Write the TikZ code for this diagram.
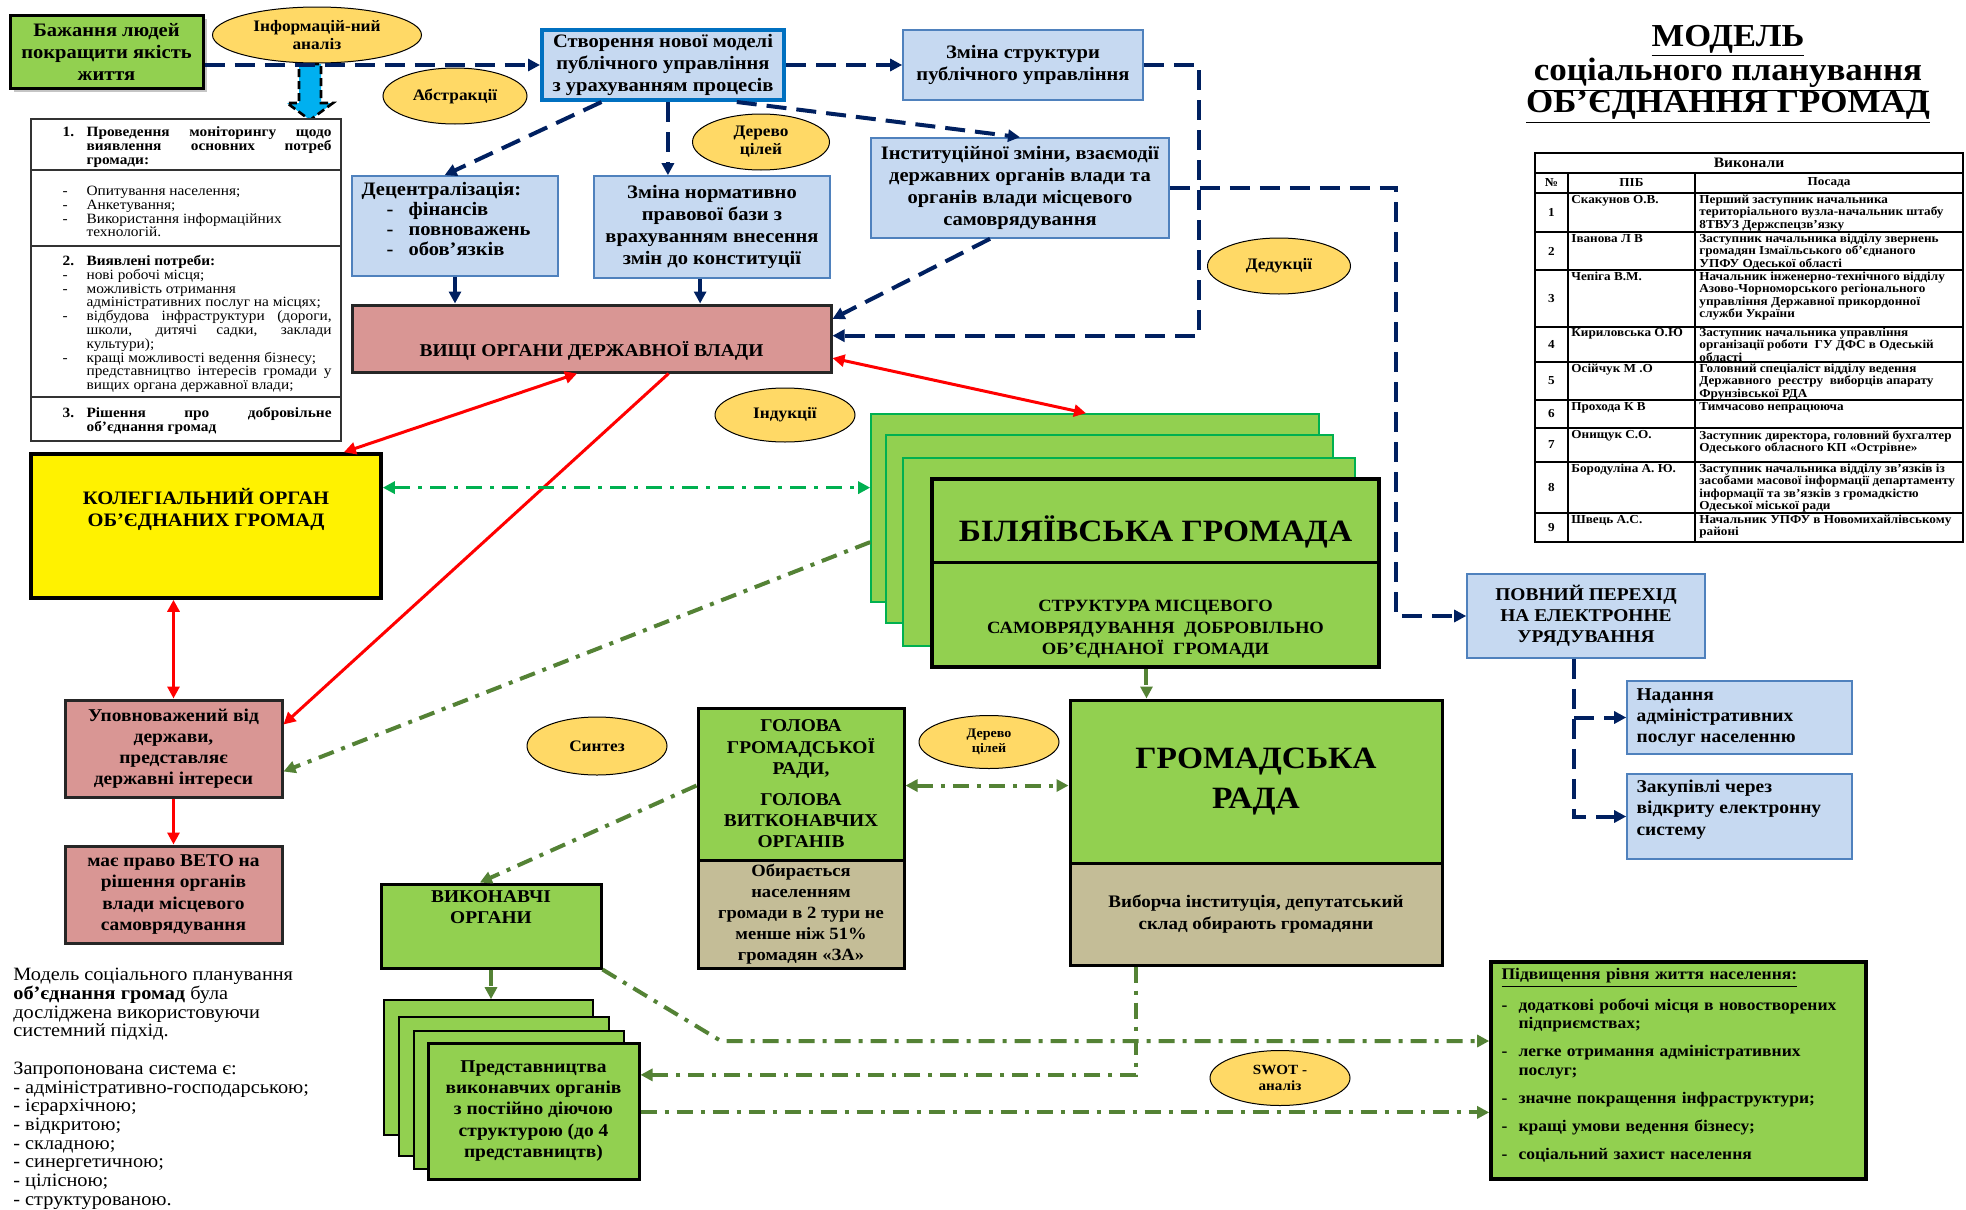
\documentclass[tikz,border=0pt]{standalone}
\usepackage{fontspec}
\setmainfont{Liberation Serif}[FakeStretch=1.08]
\usetikzlibrary{shapes.geometric,arrows.meta,calc,shadows}
\definecolor{grn}{HTML}{92D050}
\definecolor{lblue}{HTML}{C6D9F1}
\definecolor{bluebd}{HTML}{4F81BD}
\definecolor{bluethick}{HTML}{0070C0}
\definecolor{pinkc}{HTML}{D99694}
\definecolor{ellc}{HTML}{FFD966}
\definecolor{tanc}{HTML}{C4BD97}
\definecolor{navyc}{HTML}{002060}
\definecolor{olivec}{HTML}{548235}
\definecolor{bgreen}{HTML}{00B050}
\definecolor{cyanc}{HTML}{00B0F0}
\definecolor{redc}{HTML}{FF0000}
\newcommand\fsA{\fontsize{9.5}{11}\selectfont\bfseries}
\newcommand\fsB{\fontsize{9}{10.6}\selectfont\bfseries}
\newcommand\fsE{\fontsize{8}{9}\selectfont\bfseries}
\newcommand\fsM{\fontsize{7.1}{6.9}\selectfont}
\newcommand\fsT{\fontsize{6.1}{6.05}\selectfont\bfseries}
\newcommand\itm[1][12pt]{\par\noindent\hangindent=#1\hangafter=1\hbox to #1{-\hfil}}
\newcommand\numi[1]{\par\noindent\hangindent=12pt\hangafter=1\hbox to 12pt{#1\hfil}}
\newcommand\rbox[7]{\node[#2, minimum width={(#5-#3)*0.5pt}, minimum height={(#6-#4)*0.5pt}] (#1) at ({(#3+#5)/2},{(#4+#6)/2}) {#7};}
\newcommand\trow[6]{%
  \node[font=\fsT, inner sep=0pt] (tn#1) at (1551.5,{(#2+#3)/2}) {#1};
  \node[anchor=north west, font=\fsT, align=left, inner sep=0pt] (tm#1) at (1571,{#2+2}) {#4};
  \node[anchor=north west, font=\fsT, align=left, inner sep=0pt] (tp#1) at (1699,{#2+2}) {#5#6};}
\begin{document}
\begin{tikzpicture}[x=0.5pt,y=-0.5pt, >={Triangle[length=6pt,width=6pt]},
  greenbox/.style={draw=black, line width=1.5pt, fill=grn, align=center, font=\fsB, inner sep=1pt},
  bluebox/.style={draw=bluebd, line width=0.8pt, fill=lblue, align=center, font=\fsA, inner sep=1pt},
  pinkbox/.style={draw=black!85, line width=1.5pt, fill=pinkc, align=center, font=\fsB, inner sep=1pt},
  tanbox/.style={draw=black, line width=1.5pt, fill=tanc, align=center, font=\fsB, inner sep=1pt},
  backgreen/.style={draw=bgreen, line width=0.8pt, fill=grn},
  backblack/.style={draw=black, line width=0.8pt, fill=grn},
  ell/.style={ellipse, draw=black, line width=0.5pt, fill=ellc, inner sep=0pt, align=center, font=\fsE},
  lbl/.style={align=center, inner sep=0pt},
  montxt/.style={anchor=north west, text width=134.5pt, align=justify, inner sep=0pt, font=\fsM},
  navyd/.style={draw=navyc, line width=2pt, dash pattern=on 10pt off 5pt, ->},
  navys/.style={draw=navyc, line width=2pt, ->},
  redar/.style={draw=redc, line width=1.5pt},
  olv/.style={draw=olivec, line width=2pt, dash pattern=on 8pt off 4pt on 2pt off 4pt},
  bgr/.style={draw=bgreen, line width=1.8pt, dash pattern=on 8pt off 4pt on 2pt off 4pt}]
\fill[white] (0,0) rectangle (1966,1210);
\useasboundingbox (0,0) rectangle (1966,1210);

% ---------- top left
\rbox{bazh}{greenbox, font=\fsA, drop shadow={opacity=0.45, shadow xshift=2pt, shadow yshift=-2pt}}{10}{15}{203}{88}{Бажання людей\\покращити якість\\життя}
\draw[fill=cyanc, draw=black, line width=1.3pt, dash pattern=on 4pt off 2pt] (299,64) -- (321,64) -- (321,103) -- (333,103) -- (310,120) -- (287,103) -- (299,103) -- cycle;
\node[ell, minimum width=104.5pt, minimum height=28pt] (inf) at (317,35) {Інформацій-ний\\аналіз};
\node[ell, minimum width=72pt, minimum height=28pt] (abs) at (455,96) {Абстракції};

% monitoring box
\rbox{mon}{draw=black!80, line width=0.8pt, fill=white}{31}{119}{341}{441}{}
\draw[black!80, line width=0.8pt] ($(mon.north west)+(0,52)$) -- ($(mon.north east)+(0,52)$);
\draw[black!80, line width=0.8pt] ($(mon.north west)+(0,128)$) -- ($(mon.north east)+(0,128)$);
\draw[black!80, line width=0.8pt] ($(mon.north west)+(0,279)$) -- ($(mon.north east)+(0,279)$);
\node[montxt] (m1) at ($(mon.north west)+(32,4)$) {\bfseries\numi{1.}Проведення моніторингу щодо виявлення основних потреб громади:\par};
\node[montxt] (m2) at ($(mon.north west)+(32,63)$) {\itm Опитування населення;\itm Анкетування;\itm Використання інформаційних\newline технологій.\par};
\node[montxt] (m3) at ($(mon.north west)+(32,133)$) {\numi{\bfseries 2.}\textbf{Виявлені потреби:}\itm нові робочі місця;\itm можливість отримання\newline адміністративних послуг на місцях;\itm відбудова інфраструктури (дороги, школи, дитячі садки, заклади культури);\itm кращі можливості ведення бізнесу;\newline представництво інтересів громади у вищих органа державної влади;\par};
\node[montxt] (m4) at ($(mon.north west)+(32,285)$) {\bfseries\numi{3.}Рішення про добровільне об’єднання громад\par};

% ---------- top middle
\rbox{stv}{bluebox, draw=bluethick, line width=2pt}{542}{30}{784}{100}{Створення нової моделі\\публічного управління\\з урахуванням процесів}
\rbox{zms}{bluebox}{903}{30}{1143}{100}{Зміна структури\\публічного управління}
\node[ell, minimum width=68.5pt, minimum height=28pt] (der1) at (761,142) {Дерево\\цілей};
\rbox{inst}{bluebox}{871}{138}{1169}{238}{Інституційної зміни, взаємодії\\державних органів влади та\\органів влади місцевого\\самоврядування}
\rbox{dec}{bluebox}{352}{176}{558}{276}{}
\node[anchor=north west, align=left, inner sep=0pt, font=\fontsize{9.5}{10}\selectfont\bfseries] (decT) at ($(dec.north west)+(10,7)$) {Децентралізація:\\\hspace*{12.5pt}\makebox[11pt][l]{-}фінансів\\\hspace*{12.5pt}\makebox[11pt][l]{-}повноважень\\\hspace*{12.5pt}\makebox[11pt][l]{-}обов’язків};
\rbox{norm}{bluebox}{594}{176}{830}{278}{Зміна нормативно\\правової бази з\\врахуванням внесення\\змін до конституції}
\rbox{vysh}{pinkbox}{352}{305}{831}{372}{}
\node[lbl, font=\fsB] (vyshT) at ($(vysh.center)+(0,12)$) {ВИЩІ ОРГАНИ ДЕРЖАВНОЇ ВЛАДИ};
\node[ell, minimum width=71.5pt, minimum height=28pt] (ded) at (1279,266) {Дедукції};
\node[ell, minimum width=70pt, minimum height=27pt] (ind) at (785,415) {Індукції};

% ---------- left middle
\rbox{koleg}{draw=black, line width=1.8pt, fill=yellow}{31}{454}{381}{598}{}
\node[lbl, font=\fsA] (kolegT) at (206,509) {КОЛЕГІАЛЬНИЙ ОРГАН\\ОБ’ЄДНАНИХ ГРОМАД};
\rbox{upov}{pinkbox}{65}{700}{282}{797}{Уповноважений від\\держави,\\представляє\\державні інтереси}
\rbox{veto}{pinkbox}{65}{846}{282}{943}{має право ВЕТО на\\рішення органів\\влади місцевого\\самоврядування}

% ---------- stack Біляївська
\rbox{st1}{backgreen}{871}{414}{1319}{602}{}
\rbox{st2}{backgreen}{886}{435}{1333}{623}{}
\rbox{st3}{backgreen}{903}{458}{1355}{646}{}
\rbox{st4}{draw=black, line width=1.8pt, fill=grn}{932}{479}{1379}{667}{}
\draw[line width=1.5pt] ($(st4.north west)+(0,85)$) -- ($(st4.north east)+(0,85)$);
\node[lbl, font=\fontsize{15.5}{17}\selectfont\bfseries] (st4a) at ($(st4.north)+(0,55)$) {БІЛЯЇВСЬКА ГРОМАДА};
\node[lbl, font=\fontsize{8.6}{10.6}\selectfont\bfseries] (st4b) at ($(st4.north)+(0,152)$) {СТРУКТУРА МІСЦЕВОГО\\САМОВРЯДУВАННЯ\ \ ДОБРОВІЛЬНО\\ОБ’ЄДНАНОЇ\ \ ГРОМАДИ};

% ---------- right e-gov
\rbox{povn}{bluebox, font=\fsB}{1467}{574}{1705}{658}{ПОВНИЙ ПЕРЕХІД\\НА ЕЛЕКТРОННЕ\\УРЯДУВАННЯ}
\rbox{nad}{bluebox}{1627}{681}{1852}{754}{}
\node[anchor=west, align=left, inner sep=0pt, font=\fsB] (nadT) at ($(nad.west)+(10,0)$) {Надання\\адміністративних\\послуг населенню};
\rbox{zak}{bluebox}{1627}{774}{1852}{859}{}
\node[anchor=west, align=left, inner sep=0pt, font=\fsB] (zakT) at ($(zak.west)+(10,-7)$) {Закупівлі через\\відкриту електронну\\систему};

% ---------- lower middle
\node[ell, minimum width=70pt, minimum height=29pt] (syn) at (597,746) {Синтез};
\rbox{golG}{greenbox}{698}{708}{904}{860}{ГОЛОВА\\ГРОМАДСЬКОЇ\\РАДИ,\\[5pt]ГОЛОВА\\ВИТКОНАВЧИХ\\ОРГАНІВ}
\rbox{golT}{tanbox, font=\fontsize{8.6}{10.5}\selectfont\bfseries}{698}{860}{904}{968}{Обирається\\населенням\\громади в 2 тури не\\менше ніж 51\%\\громадян «ЗА»}
\node[ell, minimum width=70pt, minimum height=26.5pt, font=\fontsize{6.5}{7.5}\selectfont\bfseries] (der2) at (989,742) {Дерево\\цілей};
\rbox{hromG}{greenbox, font=\fontsize{15.5}{20}\selectfont\bfseries}{1070}{700}{1442}{863}{ГРОМАДСЬКА\\РАДА}
\rbox{hromT}{tanbox, font=\fontsize{8.8}{10.6}\selectfont\bfseries}{1070}{863}{1442}{965}{Виборча інституція, депутатський\\склад обирають громадяни}
\rbox{vyk}{greenbox}{381}{884}{601}{968}{}
\node[lbl, font=\fsB] (vykT) at ($(vyk.north)+(0,25)$) {ВИКОНАВЧІ\\ОРГАНИ};
\rbox{pr1}{backblack}{384}{1000}{593}{1135}{}
\rbox{pr2}{backblack}{399}{1017}{609}{1156}{}
\rbox{pr3}{backblack}{414}{1031}{624}{1169}{}
\rbox{pr4}{greenbox}{428}{1043}{639}{1179}{Представництва\\виконавчих органів\\з постійно діючою\\структурою (до 4\\представництв)}
\node[ell, minimum width=70pt, minimum height=27.5pt, font=\fontsize{7}{8}\selectfont\bfseries] (swot) at (1280,1078) {SWOT -\\аналіз};
\rbox{pidv}{draw=black, line width=1.8pt, fill=grn}{1491}{962}{1866}{1179}{}
\node[anchor=north west, text width=176pt, align=left, inner sep=0pt, font=\fontsize{8.1}{9.2}\selectfont\bfseries] (pidvT) at ($(pidv.north west)+(12,8)$) {\setlength{\parskip}{4.8pt}\underline{Підвищення рівня життя населення:}\itm[8.5pt]додаткові робочі місця в новостворених\newline підприємствах;\itm[8.5pt]легке отримання адміністративних\newline послуг;\itm[8.5pt]значне покращення інфраструктури;\itm[8.5pt]кращі умови ведення бізнесу;\itm[8.5pt]соціальний захист населення\par};

% ---------- bottom-left text
\node[anchor=north west, align=left, inner sep=0pt, font=\fontsize{9.4}{9.35}\selectfont] (note) at (13,968) {Модель соціального планування\\\textbf{об’єднання громад} була\\досліджена використовуючи\\системний підхід.\\[9.35pt]Запропонована система є:\\- адміністративно-господарською;\\- ієрархічною;\\- відкритою;\\- складною;\\- синергетичною;\\- цілісною;\\- структурованою.};

% ---------- title
\node[lbl, font=\fontsize{16}{18}\selectfont\bfseries] (t1) at (1728,41) {\underline{МОДЕЛЬ}};
\node[lbl, font=\fontsize{16.2}{18}\selectfont\bfseries] (t2) at (1728,75) {\underline{соціального планування}};
\node[lbl, font=\fontsize{16.2}{18}\selectfont\bfseries] (t3) at (1728,107) {\underline{ОБ’ЄДНАННЯ ГРОМАД}};

% ---------- table
\rbox{tab}{draw=black, line width=1.2pt}{1535}{153}{1963}{542}{}
\foreach \yy in {173,193,232,270,327,362,400,428,462,513} \draw[line width=0.7pt] (1535,\yy) -- (1963,\yy);
\draw[line width=0.7pt] (1568,173) -- (1568,542);
\draw[line width=0.7pt] (1695,173) -- (1695,542);
\node[font=\fontsize{7.2}{8}\selectfont\bfseries, inner sep=0pt] (thd) at (1749,163) {Виконали};
\node[font=\fsT, inner sep=0pt] (th1) at (1551.5,183) {№};
\node[font=\fsT, inner sep=0pt] (th2) at (1631.5,183) {ПІБ};
\node[font=\fsT, inner sep=0pt] (th3) at (1829,183) {Посада};
\trow{1}{193}{232}{Скакунов О.В.}{Перший заступник начальника\\територіального вузла-начальник штабу\\}{8ТВУЗ Держспецзв'язку}
\trow{2}{232}{270}{Іванова Л В}{Заступник начальника відділу звернень\\громадян Ізмаїльського об'єднаного\\}{УПФУ Одеської області}
\trow{3}{270}{327}{Чепіга В.М.}{Начальник інженерно-технічного відділу\\Азово-Чорноморського регіонального\\}{управління Державної прикордонної\\служби України}
\trow{4}{326}{362}{Кириловська О.Ю}{Заступник начальника управління\\організації роботи\ \ ГУ ДФС в Одеській\\}{області}
\trow{5}{362}{400}{Осійчук М .О}{Головний спеціаліст відділу ведення\\Державного\ \ реєстру\ \ виборців апарату\\}{Фрунзівської РДА}
\trow{6}{400}{428}{Прохода К В}{Тимчасово непрацююча}{}
\trow{7}{428}{462}{Онищук С.О.}{Заступник директора, головний бухгалтер\\}{Одеського обласного КП «Острівне»}
\trow{8}{462}{513}{Бородуліна А. Ю.}{Заступник начальника відділу зв'язків із\\засобами масової інформації департаменту\\}{інформації та зв'язків з громадкістю\\Одеської міської ради}
\trow{9}{513}{542}{Швець А.С.}{Начальник УПФУ в Новомихайлівському\\}{районі}

% ---------- navy connectors
\draw[navyd] (bazh.east |- stv.west) -- (stv.west);
\draw[navyd] (stv.east) -- (zms.west);
\draw[navyd] ($(stv.south west)!0.25!(stv.south east)$) -- ($(dec.north west)!0.45!(dec.north east)$);
\coordinate (sA) at ($(stv.south west)!0.52!(stv.south east)$);
\draw[navyd] (sA) -- (sA |- norm.north);
\draw[navyd] ($(stv.south west)!0.8!(stv.south east)$) -- (inst.north);
\draw[navys] (dec.south) -- (dec.south |- vysh.north);
\coordinate (nS) at ($(norm.south west)!0.45!(norm.south east)$);
\draw[navys] (nS) -- (nS |- vysh.north);
\draw[navyd] ($(inst.south west)!0.4!(inst.south east)$) -- ($(vysh.north east)!0.22!(vysh.south east)$);
\draw[navyd] (zms.east) -- ++(55,0) |- ($(vysh.north east)!0.46!(vysh.south east)$);
\draw[navyd] (inst.east) -- ++(226,0) |- (povn.west);
\coordinate (pS) at ($(povn.south west)!0.45!(povn.south east)$);
\draw[navyd] (pS) |- (zak.west);
\draw[navyd] (pS |- nad.west) -- (nad.west);

% ---------- red connectors
\draw[redar,<->] ($(vysh.south west)!0.47!(vysh.south east)$) -- ($(koleg.north west)!0.89!(koleg.north east)$);
\draw[redar,->] ($(vysh.south west)!0.66!(vysh.south east)$) -- ($(upov.north east)!0.26!(upov.south east)$);
\draw[redar,<->] ($(vysh.north east)!0.78!(vysh.south east)$) -- ($(st1.north west)!0.48!(st1.north east)$);
\draw[redar,<->] (koleg.south -| upov.north) -- (upov.north);
\draw[redar,->] (upov.south) -- (veto.north);

% ---------- green connectors
\coordinate (kE) at ($(koleg.north east)!0.24!(koleg.south east)$);
\draw[bgr,<->] (kE) -- (kE -| st1.west);
\draw[olv,->] ($(st1.north west)!0.68!(st1.south west)$) -- ($(upov.north east)!0.73!(upov.south east)$);
\coordinate (s4S) at ($(st4.south west)!0.48!(st4.south east)$);
\draw[olv,->] (s4S) -- (s4S |- hromG.north);
\coordinate (gE) at ($(golG.north east)!0.51!(golG.south east)$);
\draw[olv,<->] (gE) -- (gE -| hromG.west);
\draw[olv,->] ($(golG.north west)!0.51!(golG.south west)$) -- ($(vyk.north west)!0.45!(vyk.north east)$);
\draw[olv,->] (vyk.south) -- (vyk.south |- pr1.north);
\coordinate (hS) at ($(hromT.south west)!0.18!(hromT.south east)$);
\draw[olv,->] (hS) |- ($(pr4.north east)!0.24!(pr4.south east)$);
\coordinate (prE) at ($(pr4.north east)!0.51!(pr4.south east)$);
\draw[olv,->] (prE) -- (prE -| pidv.west);
\coordinate (bend) at (721,1041);
\draw[olv,->] (vyk.south east) -- (bend) -- (bend -| pidv.west);
\end{tikzpicture}
\end{document}
